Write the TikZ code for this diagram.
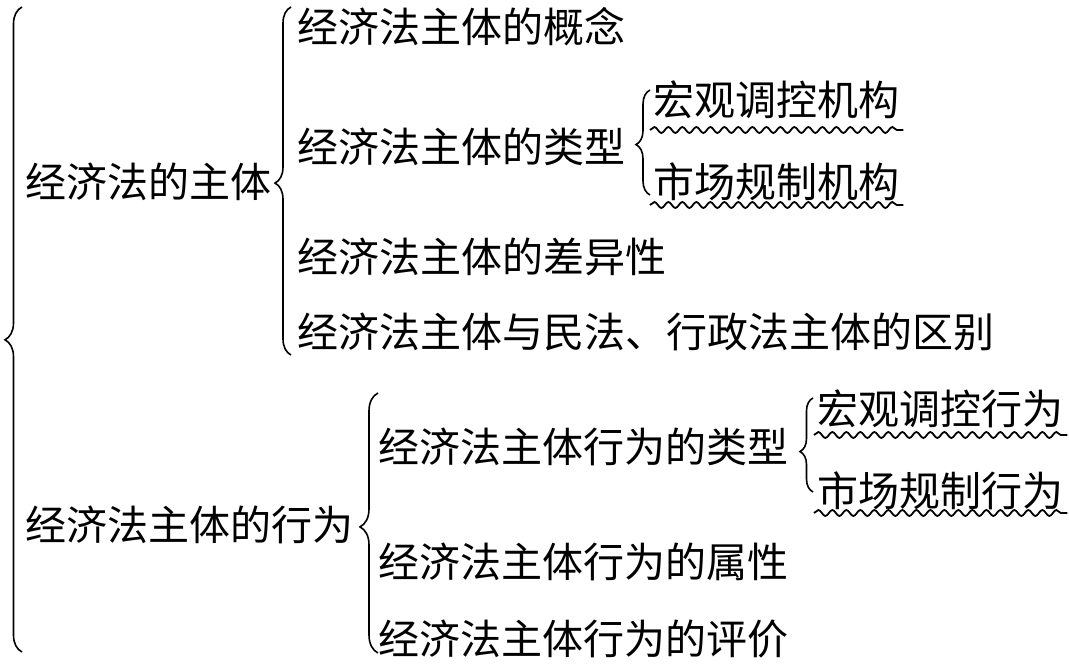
\documentclass[tikz,border=0pt]{standalone}
\usepackage{fontspec}
\newfontfamily\cjk{Noto Sans CJK SC}
\usetikzlibrary{decorations.pathreplacing,decorations.pathmorphing}
\begin{document}
\begin{tikzpicture}[x=1pt,y=1pt,
  lbl/.style={anchor=base west,inner sep=0pt,font=\cjk\fontsize{41}{43}\selectfont},
  curly/.style={draw,line width=1.6pt,decorate,decoration={brace,amplitude=#1}},
  wavy/.style={draw,line width=1.8pt,decorate,decoration={snake,segment length=14pt,amplitude=3pt}}]
\useasboundingbox (0,0) rectangle (1069,664);
% labels (baseline Y = 664 - (center+15))
\node[lbl] (r1) at (25,466) {经济法的主体};
\node[lbl] (r2) at (25,123) {经济法主体的行为};
\node[lbl] (a1) at (297,621) {经济法主体的概念};
\node[lbl] (a2) at (297,501) {经济法主体的类型};
\node[lbl] (a3) at (297,391) {经济法主体的差异性};
\node[lbl] (a4) at (297,316) {经济法主体与民法、行政法主体的区别};
\node[lbl] (b1) at (653,548) {宏观调控机构};
\node[lbl] (b2) at (653,466) {市场规制机构};
\node[lbl] (c1) at (378,201) {经济法主体行为的类型};
\node[lbl] (c2) at (378,86) {经济法主体行为的属性};
\node[lbl] (c3) at (378,9) {经济法主体行为的评价};
\node[lbl] (d1) at (817,239) {宏观调控行为};
\node[lbl] (d2) at (817,157) {市场规制行为};
% braces
\coordinate (B0s) at (22,12);   \coordinate (B0e) at (22,657);
\coordinate (B1s) at (291,309); \coordinate (B1e) at (291,657);
\coordinate (B2s) at (650,469); \coordinate (B2e) at (650,574);
\coordinate (B3s) at (378,11);  \coordinate (B3e) at (378,271);
\coordinate (B4s) at (813,172); \coordinate (B4e) at (813,266);
\path[curly=17,decoration={aspect=0.484}] (B0s) -- (B0e);
\path[curly=16,decoration={aspect=0.494}] (B1s) -- (B1e);
\path[curly=14,decoration={aspect=0.48}] (B2s) -- (B2e);
\path[curly=18,decoration={aspect=0.485}] (B3s) -- (B3e);
\path[curly=13,decoration={aspect=0.43}] (B4s) -- (B4e);
% wavy underlines
\coordinate (u1) at (0,534);
\coordinate (u2) at (0,459);
\coordinate (u3) at (0,229);
\coordinate (u4) at (0,151);
\path[wavy] ([xshift=-3pt]b1.west |- u1) -- ([xshift=4pt]b1.east |- u1);
\path[wavy] ([xshift=-3pt]b2.west |- u2) -- ([xshift=4pt]b2.east |- u2);
\path[wavy] ([xshift=-3pt]d1.west |- u3) -- ([xshift=4pt]d1.east |- u3);
\path[wavy] ([xshift=-3pt]d2.west |- u4) -- ([xshift=4pt]d2.east |- u4);
\end{tikzpicture}
\end{document}
